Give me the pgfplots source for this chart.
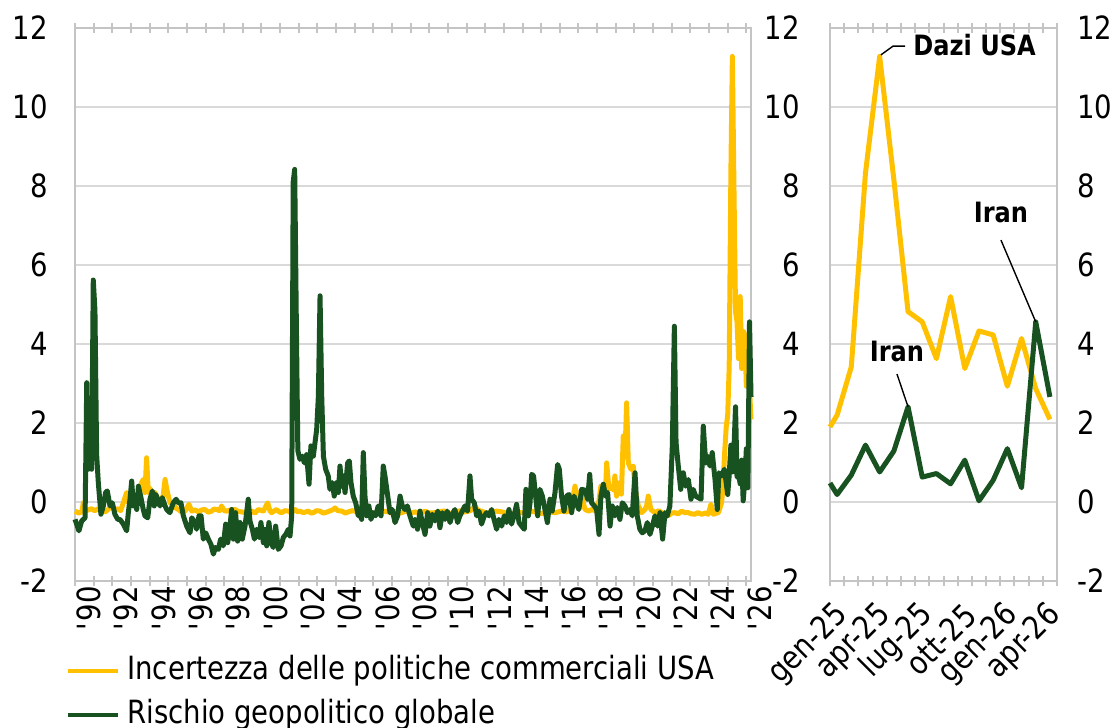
\documentclass[border=0pt]{standalone}
\usepackage{fontspec}
\setmainfont{DejaVu Sans}[FakeStretch=0.86]
\usepackage{pgfplots}
\pgfplotsset{compat=1.18}
\definecolor{cyellow}{RGB}{255,192,0}
\definecolor{cgreen}{RGB}{24,82,32}
\definecolor{gridgray}{RGB}{217,217,217}
\definecolor{framegray}{RGB}{196,196,196}
\pgfplotsset{
  base/.style={
    scale only axis, height=276.5pt, ymin=-2, ymax=12,
    ytick={-2,0,...,12}, yticklabels={-2,0,2,4,6,8,10,12},
    ytick style={draw=none},
    ymajorgrids, grid style={draw=gridgray, line width=1pt},
    axis line style={draw=framegray, line width=1pt},
    xtick align=center, major tick length=5pt,
    xtick style={draw=framegray, line width=1pt},
    tick label style={font=\fontsize{16}{19}\selectfont, inner sep=0pt},
    clip=false,
  },
}
\begin{document}
\begin{tikzpicture}
\begin{axis}[base,
  at={(37.5pt,73pt)}, anchor=south west, width=338pt,
  xmin=1990, xmax=2026.25,
  xtick={1990,...,2026},
  xticklabels={\textquotesingle90,,\textquotesingle92,,\textquotesingle94,,\textquotesingle96,,\textquotesingle98,,\textquotesingle00,,\textquotesingle02,,\textquotesingle04,,\textquotesingle06,,\textquotesingle08,,\textquotesingle10,,\textquotesingle12,,\textquotesingle14,,\textquotesingle16,,\textquotesingle18,,\textquotesingle20,,\textquotesingle22,,\textquotesingle24,,\textquotesingle26},
  x tick label style={rotate=90, anchor=east, yshift=-7pt},
  yticklabel style={anchor=east, xshift=-13.5pt},
  legend style={at={(0,0)}, anchor=north west, xshift=-4.5pt, yshift=-37pt,
    draw=none, fill=none, inner sep=0pt, row sep=6pt,
    font=\fontsize{16}{19}\selectfont,
    nodes={inner sep=0pt, text height=12pt, text depth=4pt, anchor=west}},
  legend cell align=left,
  legend image code/.code={\draw[#1, line width=2pt] (0pt,0pt) -- (25pt,0pt);},
  /tikz/every even column/.append style={column sep=0pt},
  /tikz/every odd column/.append style={column sep=3.5pt},
]
\addplot[cyellow, line width=2.5pt, line join=round] table {
1990.00 -0.23
1990.20 -0.28
1990.36 -0.25
1990.45 -0.02
1990.54 -0.23
1990.70 -0.20
1990.89 -0.17
1991.05 -0.22
1991.25 -0.17
1991.45 -0.22
1991.61 -0.25
1991.80 -0.18
1991.97 -0.06
1992.15 -0.20
1992.32 -0.17
1992.45 -0.22
1992.59 -0.02
1992.77 0.24
1992.86 -0.02
1993.04 0.15
1993.15 0.05
1993.31 0.11
1993.45 0.30
1993.57 0.49
1993.66 0.57
1993.75 0.24
1993.84 1.12
1993.93 0.24
1994.02 0.35
1994.11 0.15
1994.29 0.24
1994.43 0.07
1994.55 0.10
1994.68 -0.02
1994.83 0.57
1994.92 0.32
1995.09 -0.02
1995.27 -0.06
1995.40 -0.15
1995.54 -0.19
1995.70 -0.25
1995.90 -0.23
1996.11 -0.06
1996.26 -0.23
1996.45 -0.20
1996.61 -0.25
1996.80 -0.20
1996.97 -0.19
1997.15 -0.26
1997.33 -0.23
1997.45 -0.18
1997.60 -0.19
1997.75 -0.22
1997.86 -0.10
1998.00 -0.22
1998.13 -0.23
1998.35 -0.20
1998.58 -0.19
1998.75 -0.24
1998.94 -0.25
1999.12 -0.27
1999.30 -0.21
1999.47 -0.23
1999.65 -0.28
1999.83 -0.19
2000.10 -0.23
2000.33 -0.02
2000.45 -0.22
2000.54 -0.27
2000.70 -0.22
2000.81 -0.19
2000.95 -0.25
2001.08 -0.27
2001.25 -0.22
2001.44 -0.23
2001.60 -0.28
2001.80 -0.19
2001.95 -0.25
2002.06 -0.23
2002.25 -0.27
2002.51 -0.23
2002.65 -0.28
2002.78 -0.27
2002.95 -0.22
2003.14 -0.23
2003.30 -0.28
2003.41 -0.27
2003.60 -0.24
2003.85 -0.19
2003.94 -0.15
2004.10 -0.22
2004.30 -0.23
2004.50 -0.28
2004.66 -0.25
2004.85 -0.22
2005.01 -0.23
2005.20 -0.28
2005.37 -0.27
2005.55 -0.22
2005.73 -0.23
2006.00 -0.28
2006.26 -0.27
2006.50 -0.23
2006.80 -0.25
2007.00 -0.28
2007.16 -0.23
2007.35 -0.29
2007.52 -0.27
2007.70 -0.24
2007.87 -0.23
2008.05 -0.28
2008.23 -0.25
2008.50 -0.29
2008.77 -0.23
2009.00 -0.28
2009.30 -0.27
2009.55 -0.24
2009.84 -0.23
2010.10 -0.29
2010.37 -0.27
2010.65 -0.22
2010.91 -0.25
2011.20 -0.22
2011.45 -0.10
2011.60 -0.22
2011.80 -0.23
2012.05 -0.28
2012.34 -0.27
2012.60 -0.23
2012.88 -0.25
2013.20 -0.29
2013.59 -0.31
2013.85 -0.27
2014.13 -0.27
2014.40 -0.23
2014.66 -0.25
2015.00 -0.29
2015.38 -0.25
2015.75 -0.27
2016.09 -0.23
2016.40 -0.25
2016.63 -0.10
2016.81 0.40
2016.90 0.15
2016.99 0.24
2017.17 0.15
2017.35 -0.19
2017.55 -0.23
2017.70 -0.19
2017.90 -0.22
2018.06 -0.10
2018.20 0.40
2018.33 0.15
2018.45 0.30
2018.51 0.99
2018.63 0.32
2018.78 0.40
2018.87 0.30
2018.95 0.66
2019.04 0.15
2019.22 0.49
2019.30 0.20
2019.40 1.67
2019.49 1.16
2019.58 2.51
2019.67 0.99
2019.81 0.83
2019.94 0.91
2020.03 0.32
2020.12 0.10
2020.21 -0.10
2020.38 -0.27
2020.56 -0.19
2020.65 -0.10
2020.74 0.15
2020.88 -0.19
2021.10 -0.27
2021.30 -0.22
2021.46 -0.27
2021.65 -0.30
2021.81 -0.35
2022.00 -0.28
2022.17 -0.27
2022.35 -0.30
2022.53 -0.23
2022.70 -0.27
2022.89 -0.27
2023.05 -0.30
2023.24 -0.31
2023.40 -0.27
2023.60 -0.31
2023.80 -0.28
2023.96 -0.31
2024.10 -0.06
2024.23 -0.31
2024.40 -0.28
2024.50 -0.27
2024.67 -0.02
2024.75 0.40
2024.83 1.20
2024.92 1.90
2025.00 2.20
2025.08 3.42
2025.17 8.33
2025.25 11.28
2025.33 8.16
2025.42 4.82
2025.50 4.56
2025.58 3.63
2025.67 5.20
2025.75 3.38
2025.83 4.33
2025.92 4.23
2026.00 2.93
2026.08 4.14
2026.17 2.87
2026.25 2.09
};
\addlegendentry{Incertezza delle politiche commerciali USA}
\addplot[cgreen, line width=2.5pt, line join=round] table {
1990.00 -0.44
1990.21 -0.73
1990.36 -0.48
1990.54 -0.40
1990.63 3.02
1990.71 0.83
1990.80 0.99
1990.89 0.83
1990.98 5.62
1991.07 4.85
1991.16 1.20
1991.25 0.49
1991.39 -0.31
1991.52 -0.10
1991.64 0.24
1991.73 0.28
1991.88 -0.10
1992.00 -0.02
1992.14 -0.31
1992.29 -0.44
1992.41 -0.44
1992.59 -0.56
1992.77 -0.73
1992.86 -0.27
1992.95 0.07
1993.04 0.53
1993.13 -0.10
1993.22 0.07
1993.31 -0.19
1993.40 0.40
1993.52 0.15
1993.66 -0.19
1993.75 -0.35
1993.90 -0.40
1994.02 0.07
1994.15 0.28
1994.25 -0.10
1994.34 0.19
1994.47 -0.02
1994.56 -0.10
1994.68 0.11
1994.83 -0.10
1994.92 -0.19
1995.09 -0.27
1995.27 -0.02
1995.42 0.07
1995.54 -0.02
1995.68 -0.02
1995.81 -0.35
1995.99 -0.61
1996.17 -0.78
1996.26 -0.40
1996.43 -0.52
1996.52 -0.69
1996.65 -0.35
1996.76 -0.35
1996.88 -0.94
1997.01 -0.78
1997.15 -0.94
1997.29 -1.07
1997.42 -1.32
1997.54 -1.15
1997.69 -1.20
1997.81 -0.94
1997.95 -1.11
1998.08 -0.56
1998.19 -1.03
1998.31 -0.61
1998.40 -0.19
1998.49 -0.94
1998.61 -0.27
1998.72 -0.99
1998.85 -0.52
1998.97 -0.94
1999.12 -0.60
1999.29 0.07
1999.38 -0.48
1999.51 -0.69
1999.62 -0.94
1999.74 -0.69
1999.87 -0.90
1999.97 -0.52
2000.10 -1.03
2000.19 -0.69
2000.28 -1.11
2000.40 -0.52
2000.51 -1.03
2000.63 -1.15
2000.76 -0.61
2000.90 -1.20
2001.05 -1.11
2001.17 -0.90
2001.30 -0.82
2001.44 -0.69
2001.53 -0.86
2001.62 -0.35
2001.70 8.10
2001.78 8.42
2001.87 4.50
2001.95 1.30
2002.06 1.08
2002.19 1.16
2002.30 0.99
2002.42 1.20
2002.55 0.45
2002.65 1.42
2002.78 1.16
2002.87 1.50
2002.96 1.84
2003.05 2.68
2003.14 5.22
2003.23 2.68
2003.32 1.16
2003.44 0.83
2003.58 0.66
2003.67 0.32
2003.80 0.49
2003.90 0.15
2004.03 0.49
2004.12 0.24
2004.21 0.91
2004.30 0.40
2004.39 0.66
2004.48 0.24
2004.62 0.99
2004.71 1.04
2004.80 0.49
2004.92 0.15
2005.05 -0.02
2005.19 -0.35
2005.28 -0.19
2005.37 -0.44
2005.46 1.25
2005.55 0.15
2005.64 -0.35
2005.76 -0.10
2005.87 -0.44
2005.99 -0.27
2006.12 -0.35
2006.26 -0.10
2006.41 -0.35
2006.53 0.91
2006.62 0.66
2006.77 0.15
2006.89 -0.27
2007.01 -0.19
2007.16 -0.52
2007.30 -0.35
2007.43 0.15
2007.55 -0.10
2007.69 -0.19
2007.82 -0.10
2007.96 -0.35
2008.14 -0.61
2008.23 -0.44
2008.37 -0.69
2008.50 -0.23
2008.62 -0.52
2008.77 -0.82
2008.91 -0.27
2009.03 -0.61
2009.16 -0.31
2009.30 -0.48
2009.45 -0.23
2009.57 -0.65
2009.70 -0.27
2009.84 -0.44
2009.96 -0.23
2010.11 -0.52
2010.23 -0.31
2010.37 -0.19
2010.52 -0.52
2010.64 -0.35
2010.77 -0.23
2010.91 -0.10
2011.05 -0.23
2011.18 0.66
2011.27 0.07
2011.41 -0.02
2011.54 -0.35
2011.66 -0.23
2011.80 -0.56
2011.95 -0.35
2012.07 -0.27
2012.20 -0.35
2012.34 -0.19
2012.47 -0.44
2012.61 -0.69
2012.73 -0.44
2012.88 -0.61
2013.02 -0.35
2013.14 -0.52
2013.27 -0.19
2013.41 -0.56
2013.54 -0.35
2013.68 -0.06
2013.81 -0.52
2013.95 -0.61
2014.09 -0.69
2014.18 0.32
2014.31 -0.35
2014.40 -0.02
2014.49 0.70
2014.59 0.66
2014.70 0.15
2014.81 -0.35
2014.93 0.32
2015.06 0.15
2015.20 -0.19
2015.33 -0.52
2015.47 0.07
2015.59 -0.23
2015.74 0.24
2015.88 0.95
2015.97 0.83
2016.09 0.15
2016.22 -0.23
2016.36 0.15
2016.49 0.19
2016.63 -0.27
2016.76 0.15
2016.90 -0.06
2017.02 -0.19
2017.17 0.32
2017.35 0.30
2017.49 0.07
2017.60 0.70
2017.70 -0.02
2017.85 -0.10
2017.97 -0.19
2018.10 -0.82
2018.20 0.15
2018.33 0.45
2018.45 0.15
2018.56 0.24
2018.69 -0.61
2018.81 -0.10
2018.95 -0.35
2019.08 -0.14
2019.22 -0.44
2019.35 -0.02
2019.49 -0.10
2019.63 -0.27
2019.76 -0.19
2019.88 -0.35
2020.03 0.74
2020.15 -0.35
2020.29 -0.69
2020.42 -0.78
2020.56 -0.73
2020.69 -0.52
2020.83 -0.82
2020.96 -0.61
2021.10 -0.35
2021.24 -0.61
2021.37 -0.27
2021.51 -0.94
2021.64 -0.27
2021.76 -0.35
2021.90 -0.10
2022.03 1.42
2022.14 4.45
2022.23 1.50
2022.35 0.91
2022.48 0.32
2022.62 0.74
2022.74 0.40
2022.89 0.57
2023.03 0.07
2023.15 0.32
2023.28 0.15
2023.42 0.11
2023.57 0.07
2023.69 1.92
2023.82 0.99
2023.92 1.16
2024.05 0.91
2024.17 1.25
2024.32 0.57
2024.44 -0.19
2024.53 0.74
2024.67 0.66
2024.82 0.83
2024.92 0.48
2025.00 0.19
2025.08 0.68
2025.17 1.44
2025.25 0.76
2025.33 1.29
2025.42 2.41
2025.50 0.63
2025.58 0.72
2025.67 0.46
2025.75 1.06
2025.83 0.03
2025.92 0.55
2026.00 1.35
2026.08 0.36
2026.17 4.56
2026.25 2.66
};
\addlegendentry{Rischio geopolitico globale}
\end{axis}

\begin{axis}[base,
  at={(415pt,73pt)}, anchor=south west, width=113.5pt,
  xmin=0, xmax=16,
  xtick={0,...,16}, xticklabels={},
  extra x ticks={0.5,3.5,6.5,9.5,12.5,15.5},
  extra x tick labels={gen-25,apr-25,lug-25,ott-25,gen-26,apr-26},
  extra x tick style={major tick length=0pt, grid=none,
    tick label style={xshift=3pt, yshift=-14.5pt, rotate=45, anchor=east}},
  yticklabel style={anchor=east, xshift=-15pt},
]
\addplot[cyellow, line width=2.5pt, line join=round] table {
0 1.90
0.5 2.20
1.5 3.42
2.5 8.33
3.5 11.28
4.5 8.16
5.5 4.82
6.5 4.56
7.5 3.63
8.5 5.20
9.5 3.38
10.5 4.33
11.5 4.23
12.5 2.93
13.5 4.14
14.5 2.87
15.5 2.09
};
\addplot[cgreen, line width=2.5pt, line join=round] table {
0 0.48
0.5 0.19
1.5 0.68
2.5 1.44
3.5 0.76
4.5 1.29
5.5 2.41
6.5 0.63
7.5 0.72
8.5 0.46
9.5 1.06
10.5 0.03
11.5 0.55
12.5 1.35
13.5 0.36
14.5 4.56
15.5 2.66
};
\draw[black, line width=0.7pt] (axis cs:3.59,11.32) -- (axis cs:4.44,11.54) -- (axis cs:5.29,11.54);
\node[anchor=west, inner sep=0pt, font=\fontsize{14}{16}\selectfont\bfseries] at (axis cs:5.85,11.57) {Dazi USA};
\draw[black, line width=0.7pt] (axis cs:12.05,6.63) -- (axis cs:14.5,4.56);
\node[inner sep=0pt, font=\fontsize{14}{16}\selectfont\bfseries] at (axis cs:12.05,7.32) {Iran};
\draw[black, line width=0.7pt] (axis cs:4.72,3.24) -- (axis cs:5.5,2.41);
\node[inner sep=0pt, font=\fontsize{14}{16}\selectfont\bfseries] at (axis cs:4.72,3.82) {Iran};
\end{axis}

\begin{axis}[
  scale only axis, at={(415pt,73pt)}, anchor=south west, width=113.5pt, height=276.5pt,
  xmin=0, xmax=16, ymin=-2, ymax=12,
  axis x line=none, axis y line*=right,
  axis line style={draw=none},
  ytick={-2,0,...,12}, yticklabels={-2,0,2,4,6,8,10,12},
  ytick style={draw=none},
  yticklabel style={font=\fontsize{16}{19}\selectfont, inner sep=0pt, anchor=west, xshift=10pt},
]
\end{axis}
\pgfresetboundingbox
\useasboundingbox (0,0) rectangle (558.5pt,363.5pt);
\end{tikzpicture}
\end{document}
